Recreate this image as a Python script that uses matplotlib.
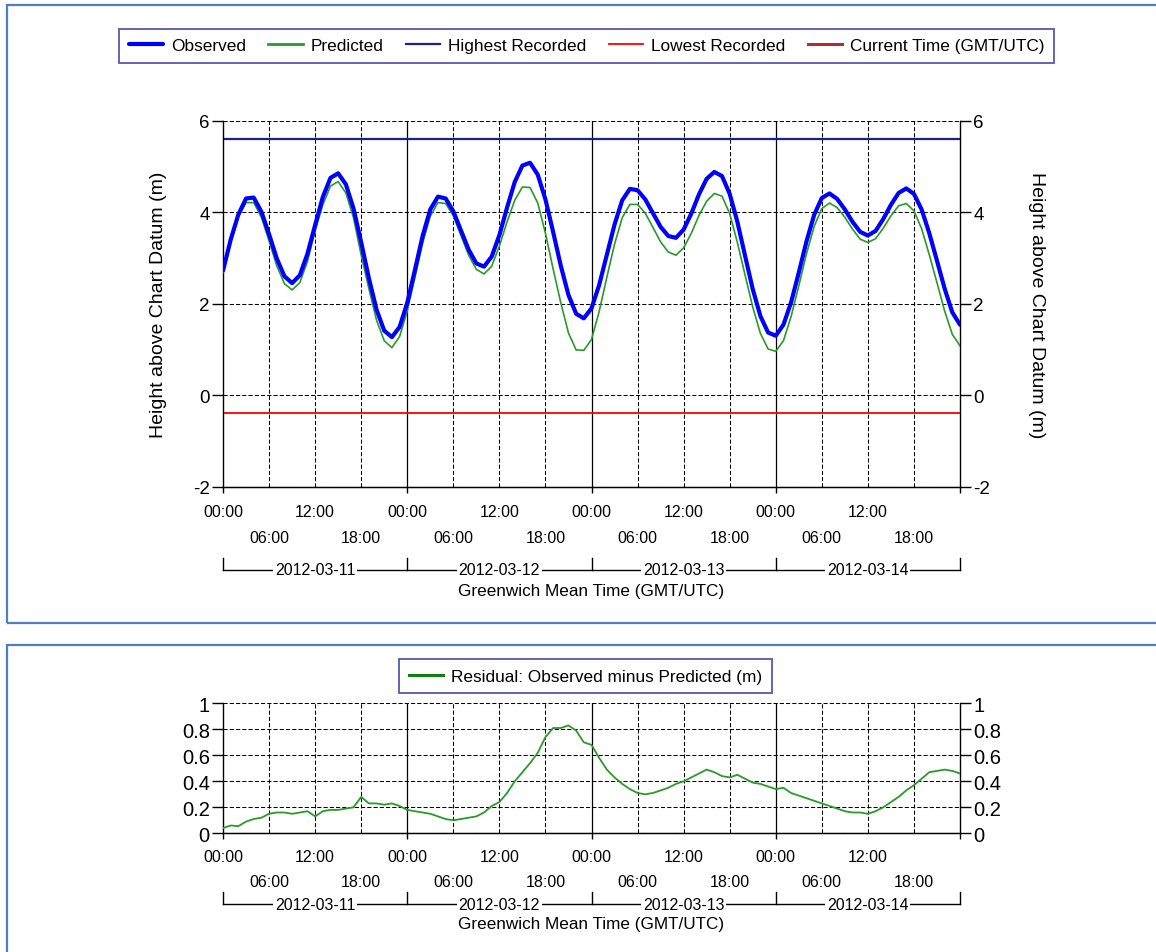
import matplotlib
matplotlib.use("Agg")
import matplotlib.pyplot as plt
from matplotlib.patches import Rectangle
import numpy as np

plt.rcParams["font.family"] = ["Liberation Sans", "DejaVu Sans"]
plt.rcParams["axes.unicode_minus"] = False

# hourly samples, hours since 2012-03-11 00:00 GMT
hours = list(range(97))

observed = [
    2.72, 3.40, 3.95, 4.30, 4.32, 4.01, 3.52, 2.99, 2.60, 2.45,
    2.62, 3.09, 3.72, 4.33, 4.75, 4.85, 4.61, 4.08, 3.34, 2.56,
    1.87, 1.41, 1.27, 1.49, 2.02, 2.74, 3.48, 4.06, 4.34, 4.30,
    4.02, 3.60, 3.18, 2.88, 2.81, 3.03, 3.50, 4.10, 4.66, 5.02,
    5.08, 4.82, 4.28, 3.57, 2.83, 2.19, 1.78, 1.68, 1.90, 2.41,
    3.07, 3.73, 4.26, 4.51, 4.48, 4.28, 3.98, 3.68, 3.48, 3.44,
    3.62, 3.97, 4.39, 4.73, 4.88, 4.79, 4.40, 3.79, 3.05, 2.32,
    1.73, 1.37, 1.30, 1.54, 2.03, 2.68, 3.36, 3.94, 4.31, 4.41,
    4.29, 4.06, 3.79, 3.57, 3.49, 3.59, 3.85, 4.16, 4.42, 4.52,
    4.40, 4.06, 3.54, 2.94, 2.33, 1.81, 1.54,
]

residual = [
    0.04, 0.06, 0.055, 0.09, 0.11, 0.12, 0.15, 0.16, 0.16, 0.15,
    0.16, 0.17, 0.13, 0.17, 0.18, 0.18, 0.19, 0.20, 0.28, 0.23,
    0.23, 0.22, 0.23, 0.21, 0.18, 0.17, 0.16, 0.15, 0.13, 0.11,
    0.10, 0.11, 0.12, 0.13, 0.16, 0.21, 0.24, 0.31, 0.40, 0.47,
    0.54, 0.62, 0.74, 0.81, 0.81, 0.83, 0.79, 0.70, 0.68, 0.58,
    0.49, 0.43, 0.38, 0.34, 0.31, 0.30, 0.31, 0.33, 0.35, 0.38,
    0.40, 0.43, 0.46, 0.49, 0.47, 0.44, 0.43, 0.45, 0.42, 0.39,
    0.38, 0.36, 0.34, 0.35, 0.31, 0.29, 0.27, 0.25, 0.23, 0.21,
    0.19, 0.17, 0.16, 0.16, 0.15, 0.17, 0.20, 0.24, 0.28, 0.33,
    0.37, 0.42, 0.47, 0.48, 0.49, 0.48, 0.46,
]

# residual is observed minus predicted
predicted = np.array(observed) - np.array(residual)

highest_recorded = 5.6
lowest_recorded = -0.38

dates = ["2012-03-11", "2012-03-12", "2012-03-13", "2012-03-14"]
day_ticks = [0, 24, 48, 72, 96]
row1_ticks = [0, 12, 24, 36, 48, 60, 72, 84]
row1_labels = ["00:00", "12:00"] * 4
row2_ticks = [6, 18, 30, 42, 54, 66, 78, 90]
row2_labels = ["06:00", "18:00"] * 4
grid_hours = list(range(6, 96, 6))

W, H = 1156, 953
fig = plt.figure(figsize=(W / 100, H / 100), dpi=100)

# panel frames
border = "#4f7fc0"
fig.add_artist(Rectangle((7 / W, 1 - 624 / H), 1.2, 618 / H, transform=fig.transFigure,
                         fill=False, ec=border, lw=1.6))
fig.add_artist(Rectangle((7 / W, -0.2), 1.2, 0.2 + 1 - 646 / H, transform=fig.transFigure,
                         fill=False, ec=border, lw=1.6))

ax1 = fig.add_axes([223 / W, 1 - 487.7 / H, 737 / W, 366 / H])
ax2 = fig.add_axes([223 / W, 1 - 834.3 / H, 737 / W, 130 / H])


def style_axes(ax, ylim, yticks, ylabels, ysize, row1_pad, row2_pad, bracket_px, xlabel_px):
    ax.set_xlim(0, 96)
    ax.set_ylim(*ylim)
    ax.set_yticks(yticks, ylabels)
    ax.tick_params(axis="y", left=True, right=True, labelleft=True, labelright=True,
                   length=8, width=1, pad=1.5, labelsize=ysize)
    ax.spines["top"].set_visible(False)
    for s in ["left", "right", "bottom"]:
        ax.spines[s].set_linewidth(1)
    ax.set_axisbelow(True)
    ax.grid(axis="y", color="black", linestyle=(0, (4, 2)), linewidth=0.75)
    for h in grid_hours:
        if h in day_ticks:
            ax.axvline(h, color="black", lw=0.9, zorder=0.5)
        else:
            ax.axvline(h, color="black", lw=0.75, linestyle=(0, (4, 2)), zorder=0.5)

    ax.set_xticks(row1_ticks, row1_labels)
    ax.set_xticks(row2_ticks, row2_labels, minor=True)
    ax.tick_params(axis="x", which="major", length=0, pad=row1_pad, labelsize=11.5)
    ax.tick_params(axis="x", which="minor", length=0, pad=row2_pad, labelsize=11.5)

    sec = ax.secondary_xaxis("bottom")
    sec.set_xticks(day_ticks, [""] * len(day_ticks))
    sec.tick_params(length=4, width=1)

    ax_h = ax.get_position().height * H
    tr = ax.get_xaxis_transform()
    yb = -bracket_px / ax_h
    yt = -(bracket_px - 12) / ax_h
    ax.plot([day_ticks[0], day_ticks[-1]], [yb, yb], color="black", lw=1,
            transform=tr, clip_on=False)
    for d in day_ticks:
        ax.plot([d, d], [yb, yt], color="black", lw=1, transform=tr, clip_on=False)
    for i, d in enumerate(dates):
        ax.text(day_ticks[i] + 12, yb, d, transform=tr, ha="center", va="center",
                fontsize=11.5, bbox=dict(fc="white", ec="none", pad=1.2), zorder=5)
    ax.text(48, -xlabel_px / ax_h, "Greenwich Mean Time (GMT/UTC)", transform=tr,
            ha="center", va="center", fontsize=12.3)


# top chart
l_obs, = ax1.plot(hours, observed, color="#0000ff", lw=3.0, zorder=4, label="Observed",
                  solid_joinstyle="round", solid_capstyle="round")
l_pred, = ax1.plot(hours, predicted, color="#2a9a2a", lw=1.2, zorder=3, label="Predicted",
                   solid_joinstyle="round")
l_high = ax1.axhline(highest_recorded, color="#1f1f8f", lw=1.6, zorder=2, label="Highest Recorded")
l_low = ax1.axhline(lowest_recorded, color="#ff0000", lw=1.3, zorder=2, label="Lowest Recorded")
l_now, = ax1.plot([], [], color="#a83232", lw=2.2, label="Current Time (GMT/UTC)")

style_axes(ax1, (-2, 6), [-2, 0, 2, 4, 6], ["-2", "0", "2", "4", "6"], 13.5,
           12.5, 31.0, 83, 104)

fig.text(158 / W, 1 - 305 / H, "Height above Chart Datum (m)", rotation=90,
         ha="center", va="center", fontsize=14)
fig.text(1036 / W, 1 - 305 / H, "Height above Chart Datum (m)", rotation=270,
         ha="center", va="center", fontsize=14)

leg1 = fig.legend([l_obs, l_pred, l_high, l_low, l_now],
                  ["Observed", "Predicted", "Highest Recorded", "Lowest Recorded",
                   "Current Time (GMT/UTC)"],
                  loc="center", bbox_to_anchor=(586.5 / W, 1 - 46.5 / H), ncol=5,
                  fontsize=12.4, frameon=True, fancybox=False, handlelength=2.0,
                  handletextpad=0.45, columnspacing=1.3, borderpad=0.55)
leg1.get_frame().set_edgecolor("#2e2e9c")
leg1.get_frame().set_linewidth(1.3)
leg1.get_lines()[1].set_linewidth(2.0)

# residual chart
l_res, = ax2.plot(hours, residual, color="#2a9a2a", lw=1.3, zorder=3,
                  label="Residual: Observed minus Predicted (m)", solid_joinstyle="round")
style_axes(ax2, (0, 1), [0, 0.2, 0.4, 0.6, 0.8, 1.0],
           ["0", "0.2", "0.4", "0.6", "0.8", "1"], 14.5, 11.5, 29.0, 71, 90)

leg2 = fig.legend([l_res], ["Residual: Observed minus Predicted (m)"], loc="center",
                  bbox_to_anchor=(585.5 / W, 1 - 677 / H), fontsize=12.4, frameon=True,
                  fancybox=False, handlelength=2.0, handletextpad=0.45, borderpad=0.55)
leg2.get_frame().set_edgecolor("#2e2e9c")
leg2.get_frame().set_linewidth(1.3)
leg2.get_lines()[0].set_color("#108010")
leg2.get_lines()[0].set_linewidth(2.2)

fig.savefig("out.png", dpi=100)
